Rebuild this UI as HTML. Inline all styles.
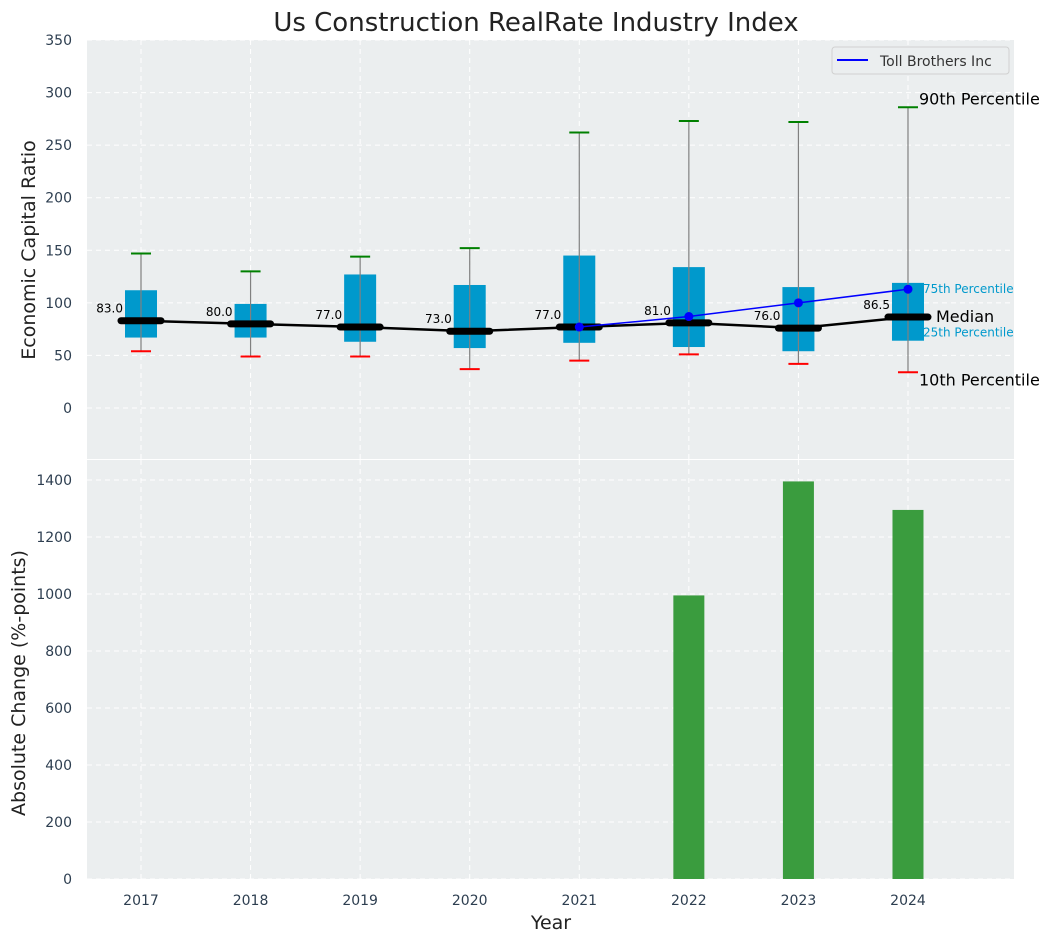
<!DOCTYPE html>
<html><head><meta charset="utf-8"><style>
body{margin:0;background:#fff;}
svg{font-family:"DejaVu Sans","Liberation Sans",sans-serif;}
</style></head><body>
<svg id="chart" width="1054" height="942" xmlns="http://www.w3.org/2000/svg"></svg>
<script>
const years=[2017,2018,2019,2020,2021,2022,2023,2024];
const p10=[54,49,49,37,45,51,42,34];
const p25=[67,67,63,57,62,58,54,64];
const med=[83,80,77,73,77,81,76,86.5];
const p75=[112,99,127,117,145,134,115,119];
const p90=[147,130,144,152,262,273,272,286];
const tollYears=[2021,2022,2023,2024];
const tollVals=[77,87,100,113];
const changeYears=[2022,2023,2024];
const changeVals=[995,1395,1295];
const topTicks=[0,50,100,150,200,250,300,350];
const botTicks=[0,200,400,600,800,1000,1200,1400];

const svg=document.getElementById('chart');
const NS='http://www.w3.org/2000/svg';
function el(t,a,p){const e=document.createElementNS(NS,t);for(const k in a)e.setAttribute(k,a[k]);(p||svg).appendChild(e);return e;}
const X0=87,X1=1014;
const x=v=>141+(v-2017)*109.57;
const yT=v=>408-v*1.0514;
const yB=v=>879-v*0.285;

let r=el('rect',{x:X0,y:40,width:X1-X0,height:419,fill:'#ebeeef'});

r=el('rect',{x:X0,y:460,width:X1-X0,height:419,fill:'#ebeeef'});


years.forEach(yr=>{
 el('line',{x1:x(yr),x2:x(yr),y1:40,y2:459,stroke:'#fff','stroke-dasharray':'5,4','stroke-width':1});
 el('line',{x1:x(yr),x2:x(yr),y1:460,y2:879,stroke:'#fff','stroke-dasharray':'5,4','stroke-width':1});
 let t=el('text',{x:x(yr),y:905,'text-anchor':'middle','font-size':14,fill:'#2d3e50'});t.textContent=yr;
 
});
topTicks.forEach(v=>{
 el('line',{x1:X0,x2:X1,y1:yT(v),y2:yT(v),stroke:'#fff','stroke-dasharray':'5,4'});
 let t=el('text',{x:72,y:yT(v)+5,'text-anchor':'end','font-size':14,fill:'#2d3e50'});t.textContent=v;
 
});
botTicks.forEach(v=>{
 el('line',{x1:X0,x2:X1,y1:yB(v),y2:yB(v),stroke:'#fff','stroke-dasharray':'5,4'});
 let t=el('text',{x:72,y:yB(v)+5,'text-anchor':'end','font-size':14,fill:'#2d3e50'});t.textContent=v;
 
});

years.forEach((yr,i)=>{
 const cx=x(yr);
 let b=el('rect',{x:cx-16,y:yT(p75[i]),width:32,height:yT(p25[i])-yT(p75[i]),fill:'#0099cc'});
 
 el('line',{x1:cx,x2:cx,y1:yT(p10[i]),y2:yT(p90[i]),stroke:'#808080','stroke-width':1.2});
 el('line',{x1:cx-10,x2:cx+10,y1:yT(p90[i]),y2:yT(p90[i]),stroke:'green','stroke-width':2});
 el('line',{x1:cx-10,x2:cx+10,y1:yT(p10[i]),y2:yT(p10[i]),stroke:'red','stroke-width':2});
 el('line',{x1:cx-20,x2:cx+20,y1:yT(med[i]),y2:yT(med[i]),stroke:'#000','stroke-width':7,'stroke-linecap':'round'});
 let t=el('text',{x:cx-18,y:yT(med[i])-8,'text-anchor':'end','font-size':12,fill:'#000'});t.textContent=med[i].toFixed(1);
 
});
let mp=el('polyline',{points:years.map((yr,i)=>x(yr)+','+yT(med[i])).join(' '),fill:'none',stroke:'#000','stroke-width':2.5});

let tp=el('polyline',{points:tollYears.map((yr,i)=>x(yr)+','+yT(tollVals[i])).join(' '),fill:'none',stroke:'blue','stroke-width':1.5});

tollYears.forEach((yr,i)=>{let c=el('circle',{cx:x(yr),cy:yT(tollVals[i]),r:4.5,fill:'blue'});
 });

const L=years.length-1, ax=x(years[L]);
[[yT(p90[L])-3,'90th Percentile',16,'#000',11],[yT(p75[L])+10,'75th Percentile',12,'#0099cc',15],[yT(med[L])+5,'Median',16,'#000',28],[yT(p25[L])-4,'25th Percentile',12,'#0099cc',15],[yT(p10[L])+13,'10th Percentile',16,'#000',11]].forEach(a=>{
 let t=el('text',{x:ax+a[4],y:a[0],'font-size':a[2],fill:a[3]});
 t.textContent=a[1];
});

changeYears.forEach((yr,i)=>{let b=el('rect',{x:x(yr)-15.5,y:yB(changeVals[i]),width:31,height:879-yB(changeVals[i]),fill:'#3a9c3e'});
 });

let lg=el('g',{});
el('rect',{x:832,y:47,width:177,height:27,rx:3,fill:'#ebeeef',stroke:'#d0d0d0'},lg);
el('line',{x1:837,x2:868,y1:60,y2:60,stroke:'blue','stroke-width':2},lg);
let lt=el('text',{x:880,y:66,'font-size':14,fill:'#333'},lg);lt.textContent='Toll Brothers Inc';

let t=el('text',{x:536,y:31,'text-anchor':'middle','font-size':26,fill:'#222'});t.textContent='Us Construction RealRate Industry Index';

t=el('text',{x:0,y:0,'text-anchor':'middle','font-size':19,fill:'#222',transform:'translate(35,250) rotate(-90)'});t.textContent='Economic Capital Ratio';

t=el('text',{x:0,y:0,'text-anchor':'middle','font-size':19,fill:'#222',transform:'translate(25,683) rotate(-90)'});t.textContent='Absolute Change (%-points)';

t=el('text',{x:551,y:929,'text-anchor':'middle','font-size':19,fill:'#222'});t.textContent='Year';

</script>
</body></html>
